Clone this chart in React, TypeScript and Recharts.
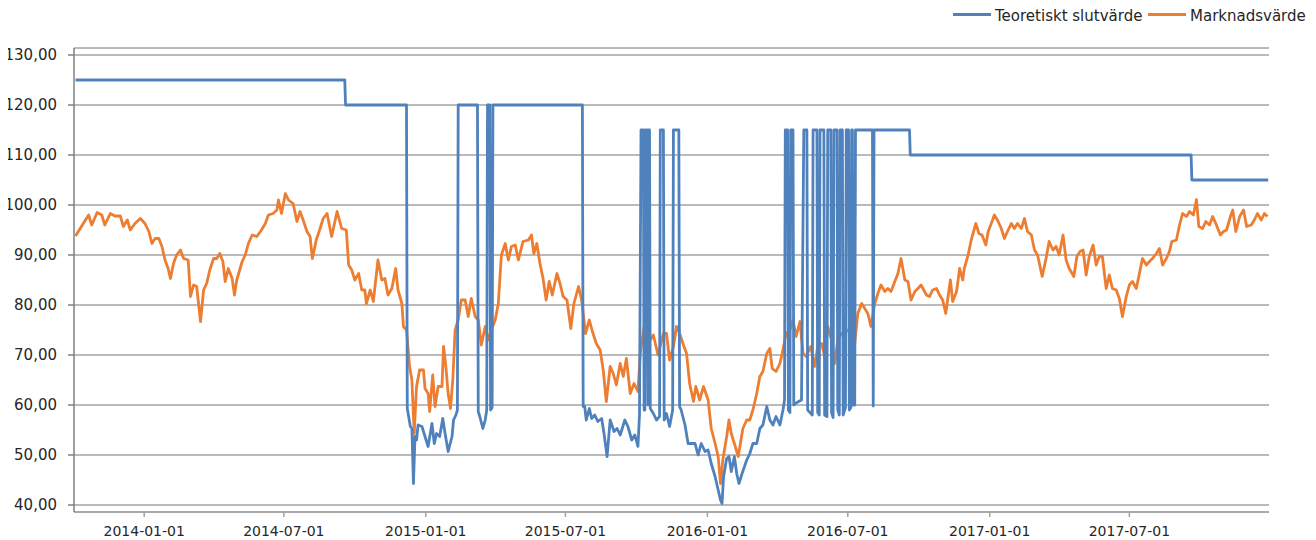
import React from "react";
import { LineChart, Line, XAxis, YAxis, CartesianGrid } from "recharts";

const tickDates = [
  "2014-01-01", "2014-07-01", "2015-01-01", "2015-07-01",
  "2016-01-01", "2016-07-01", "2017-01-01", "2017-07-01",
];
const yTicks = [40, 50, 60, 70, 80, 90, 100, 110, 120, 130];

const marketDates = [
  "2013-10-04", "2013-10-10", "2013-10-14", "2013-10-21", "2013-10-25", "2013-11-01", "2013-11-07", "2013-11-11", "2013-11-18", "2013-11-24",
  "2013-12-01", "2013-12-05", "2013-12-10", "2013-12-14", "2013-12-20", "2013-12-27", "2014-01-02", "2014-01-07", "2014-01-11", "2014-01-15",
  "2014-01-20", "2014-01-24", "2014-01-28", "2014-02-01", "2014-02-04", "2014-02-08", "2014-02-12", "2014-02-17", "2014-02-21", "2014-02-27",
  "2014-03-02", "2014-03-06", "2014-03-10", "2014-03-15", "2014-03-19", "2014-03-23", "2014-03-27", "2014-04-01", "2014-04-05", "2014-04-09",
  "2014-04-13", "2014-04-16", "2014-04-20", "2014-04-25", "2014-04-28", "2014-05-01", "2014-05-08", "2014-05-12", "2014-05-16", "2014-05-21",
  "2014-05-27", "2014-06-02", "2014-06-07", "2014-06-11", "2014-06-17", "2014-06-22", "2014-06-24", "2014-06-28", "2014-07-03", "2014-07-07",
  "2014-07-13", "2014-07-18", "2014-07-22", "2014-07-26", "2014-07-31", "2014-08-04", "2014-08-07", "2014-08-12", "2014-08-17", "2014-08-21",
  "2014-08-26", "2014-09-01", "2014-09-08", "2014-09-14", "2014-09-20", "2014-09-23", "2014-09-27", "2014-10-01", "2014-10-06", "2014-10-10",
  "2014-10-14", "2014-10-16", "2014-10-21", "2014-10-25", "2014-10-31", "2014-11-05", "2014-11-09", "2014-11-13", "2014-11-18", "2014-11-23",
  "2014-11-26", "2014-12-01", "2014-12-03", "2014-12-07", "2014-12-11", "2014-12-14", "2014-12-17", "2014-12-20", "2014-12-24", "2014-12-29",
  "2014-12-31", "2015-01-04", "2015-01-06", "2015-01-10", "2015-01-13", "2015-01-17", "2015-01-22", "2015-01-24", "2015-01-27", "2015-01-30",
  "2015-02-02", "2015-02-05", "2015-02-08", "2015-02-12", "2015-02-16", "2015-02-21", "2015-02-25", "2015-03-01", "2015-03-06", "2015-03-10",
  "2015-03-14", "2015-03-19", "2015-03-23", "2015-03-27", "2015-04-01", "2015-04-05", "2015-04-09", "2015-04-14", "2015-04-18", "2015-04-22",
  "2015-04-27", "2015-05-01", "2015-05-07", "2015-05-14", "2015-05-18", "2015-05-21", "2015-05-25", "2015-05-29", "2015-06-02", "2015-06-06",
  "2015-06-10", "2015-06-14", "2015-06-20", "2015-06-24", "2015-06-28", "2015-07-03", "2015-07-08", "2015-07-12", "2015-07-18", "2015-07-22",
  "2015-07-27", "2015-08-01", "2015-08-05", "2015-08-10", "2015-08-15", "2015-08-19", "2015-08-23", "2015-08-28", "2015-09-01", "2015-09-05",
  "2015-09-10", "2015-09-14", "2015-09-18", "2015-09-23", "2015-09-28", "2015-10-03", "2015-10-06", "2015-10-11", "2015-10-16", "2015-10-23",
  "2015-10-29", "2015-11-05", "2015-11-09", "2015-11-13", "2015-11-18", "2015-11-22", "2015-11-26", "2015-12-01", "2015-12-05", "2015-12-09",
  "2015-12-14", "2015-12-17", "2015-12-22", "2015-12-27", "2016-01-02", "2016-01-06", "2016-01-11", "2016-01-15", "2016-01-18", "2016-01-21",
  "2016-01-26", "2016-01-29", "2016-02-01", "2016-02-05", "2016-02-10", "2016-02-16", "2016-02-21", "2016-02-25", "2016-02-29", "2016-03-05",
  "2016-03-09", "2016-03-13", "2016-03-18", "2016-03-22", "2016-03-25", "2016-03-30", "2016-04-04", "2016-04-07", "2016-04-12", "2016-04-17",
  "2016-04-21", "2016-04-25", "2016-04-30", "2016-05-04", "2016-05-08", "2016-05-14", "2016-05-19", "2016-05-23", "2016-05-28", "2016-06-01",
  "2016-06-05", "2016-06-10", "2016-06-14", "2016-06-18", "2016-06-23", "2016-06-27", "2016-07-01", "2016-07-06", "2016-07-10", "2016-07-14",
  "2016-07-19", "2016-07-23", "2016-07-27", "2016-07-31", "2016-08-05", "2016-08-09", "2016-08-13", "2016-08-18", "2016-08-22", "2016-08-26",
  "2016-08-31", "2016-09-04", "2016-09-08", "2016-09-13", "2016-09-17", "2016-09-21", "2016-09-26", "2016-09-30", "2016-10-04", "2016-10-11",
  "2016-10-15", "2016-10-19", "2016-10-24", "2016-10-28", "2016-11-01", "2016-11-05", "2016-11-08", "2016-11-11", "2016-11-14", "2016-11-19",
  "2016-11-23", "2016-11-27", "2016-11-29", "2016-12-04", "2016-12-08", "2016-12-14", "2016-12-18", "2016-12-22", "2016-12-27", "2016-12-30",
  "2017-01-03", "2017-01-07", "2017-01-11", "2017-01-16", "2017-01-20", "2017-01-24", "2017-01-29", "2017-02-02", "2017-02-06", "2017-02-11",
  "2017-02-15", "2017-02-19", "2017-02-24", "2017-02-28", "2017-03-04", "2017-03-10", "2017-03-15", "2017-03-19", "2017-03-24", "2017-03-28",
  "2017-04-01", "2017-04-06", "2017-04-10", "2017-04-14", "2017-04-20", "2017-04-24", "2017-04-28", "2017-05-02", "2017-05-06", "2017-05-10",
  "2017-05-15", "2017-05-19", "2017-05-23", "2017-05-27", "2017-06-01", "2017-06-05", "2017-06-09", "2017-06-14", "2017-06-18", "2017-06-22",
  "2017-06-27", "2017-07-01", "2017-07-05", "2017-07-10", "2017-07-14", "2017-07-18", "2017-07-23", "2017-07-27", "2017-07-31", "2017-08-05",
  "2017-08-09", "2017-08-13", "2017-08-18", "2017-08-22", "2017-08-25", "2017-08-31", "2017-09-04", "2017-09-08", "2017-09-13", "2017-09-17",
  "2017-09-22", "2017-09-26", "2017-09-29", "2017-10-04", "2017-10-08", "2017-10-13", "2017-10-17", "2017-10-21", "2017-10-27", "2017-10-31",
  "2017-11-04", "2017-11-09", "2017-11-12", "2017-11-16", "2017-11-21", "2017-11-26", "2017-11-30", "2017-12-06", "2017-12-10", "2017-12-14",
  "2017-12-19", "2017-12-23", "2017-12-27",
];

const marketValues = [
  93.8, 95.3, 96.3, 98, 96, 98.5, 98, 96, 98.3, 97.8,
  97.8, 95.7, 97, 95, 96.3, 97.3, 96.3, 94.7, 92.3, 93.3,
  93.3, 91.7, 89, 87.3, 85.3, 88.3, 90, 91, 89.3, 89,
  81.7, 84, 83.7, 76.7, 83, 84.3, 87, 89.3, 89.3, 90.3,
  88.7, 84.7, 87.3, 85.3, 82, 85, 88.7, 90, 92.3, 94,
  93.7, 95, 96.3, 98, 98.3, 99, 101, 98.3, 102.3, 101,
  100.3, 96.7, 98.7, 97, 94.7, 93.7, 89.3, 93, 95.3, 97.3,
  98.3, 93.7, 98.7, 95.3, 95, 88, 87, 85, 86.3, 83,
  83, 80.3, 83, 80.7, 89, 85, 85.3, 82, 83.3, 87.3,
  83, 80.3, 75.7, 75, 67.7, 65, 54.3, 63.7, 67, 67,
  63.3, 62.3, 58.7, 66, 59.7, 63.7, 63.7, 71.7, 67.7, 62.3,
  59.3, 65, 75, 77, 81, 81, 77.7, 81.3, 77.7, 77,
  72, 75.7, 73, 75, 77, 80.3, 90, 92.3, 89, 91.7,
  92, 89, 92.7, 93, 94, 90.3, 92.3, 88.3, 85.3, 81,
  84.7, 82, 86.3, 84.3, 81.7, 81, 75.3, 80.3, 83.7, 81,
  74.3, 77, 74.7, 72.3, 71, 67, 60.7, 67.7, 66.3, 64,
  68.3, 65.7, 69.3, 62.3, 64.3, 62.7, 70.3, 75.7, 72.3, 74,
  70, 74.3, 74.3, 69, 71.7, 75.7, 74.3, 72, 70.3, 64.3,
  60.7, 63.7, 61, 63.7, 61, 55.3, 52.3, 49.7, 44.3, 49,
  53.7, 57, 54.3, 52.3, 49.7, 55.3, 57, 57, 59, 62.3,
  65.7, 66.7, 70.3, 71.3, 67.3, 66.7, 68.3, 70.3, 74.3, 75,
  77, 73.7, 76.7, 70.3, 69.7, 71.7, 67.7, 71.7, 72.3, 69.7,
  75.7, 73, 68.3, 73, 74.3, 74.3, 75, 75, 72.3, 78.3,
  80.3, 79.3, 78.3, 75.7, 80.3, 82.3, 84, 82.7, 83.3, 82.7,
  84.7, 86.3, 89.3, 85, 84.7, 81, 82.7, 83.3, 84, 82,
  81.7, 83, 83.3, 82, 81, 78.3, 81.7, 85, 80.7, 82.7,
  87.3, 85, 87.3, 90, 93, 96.3, 94.3, 94, 92, 94.7,
  96.3, 98, 97, 95.3, 93.3, 94.7, 96.3, 95.3, 96.3, 95.3,
  97.3, 94.7, 94, 91, 90, 85.7, 89.3, 92.7, 91, 91.7,
  90, 94, 89, 87.3, 85.7, 89.7, 90.7, 91, 86, 89.7,
  92, 88, 89.7, 89.7, 83.3, 86, 83.3, 83, 81.3, 77.7,
  81.7, 84, 84.7, 83.3, 86.3, 89.3, 88, 88.7, 89.3, 90.3,
  91.3, 88, 89.3, 90.7, 92.7, 93, 96, 98.3, 97.7, 98.7,
  98, 101.1, 95.7, 95.3, 96.7, 96, 97.7, 96.3, 94, 94.7,
  95, 97.7, 99, 94.7, 97.7, 99, 95.7, 96, 97, 98.3,
  97, 98.3, 97.7,
];

const theoDates = [
  "2013-10-04", "2014-09-18", "2014-09-19", "2014-12-07", "2014-12-08", "2014-12-12", "2014-12-14", "2014-12-16", "2014-12-18", "2014-12-20",
  "2014-12-22", "2014-12-27", "2014-12-31", "2015-01-04", "2015-01-09", "2015-01-12", "2015-01-15", "2015-01-19", "2015-01-23", "2015-01-26",
  "2015-01-30", "2015-02-04", "2015-02-06", "2015-02-09", "2015-02-11", "2015-02-12", "2015-03-09", "2015-03-10", "2015-03-12", "2015-03-16",
  "2015-03-19", "2015-03-21", "2015-03-22", "2015-03-25", "2015-03-26", "2015-03-28", "2015-03-29", "2015-07-23", "2015-07-24", "2015-07-26",
  "2015-07-28", "2015-08-01", "2015-08-04", "2015-08-08", "2015-08-12", "2015-08-17", "2015-08-20", "2015-08-24", "2015-08-28", "2015-09-02",
  "2015-09-06", "2015-09-10", "2015-09-16", "2015-09-20", "2015-09-25", "2015-09-29", "2015-10-03", "2015-10-05", "2015-10-07", "2015-10-10",
  "2015-10-11", "2015-10-12", "2015-10-13", "2015-10-15", "2015-10-16", "2015-10-17", "2015-10-18", "2015-10-19", "2015-10-23", "2015-10-27",
  "2015-10-31", "2015-11-01", "2015-11-05", "2015-11-06", "2015-11-09", "2015-11-13", "2015-11-17", "2015-11-18", "2015-11-25", "2015-11-26",
  "2015-11-28", "2015-12-03", "2015-12-07", "2015-12-11", "2015-12-16", "2015-12-20", "2015-12-24", "2015-12-29", "2016-01-02", "2016-01-06",
  "2016-01-11", "2016-01-15", "2016-01-18", "2016-01-20", "2016-01-22", "2016-01-26", "2016-01-29", "2016-02-01", "2016-02-05", "2016-02-08",
  "2016-02-11", "2016-02-15", "2016-02-21", "2016-02-25", "2016-02-29", "2016-03-05", "2016-03-09", "2016-03-13", "2016-03-18", "2016-03-22",
  "2016-03-26", "2016-03-30", "2016-04-04", "2016-04-08", "2016-04-10", "2016-04-11", "2016-04-14", "2016-04-15", "2016-04-17", "2016-04-18",
  "2016-04-21", "2016-04-22", "2016-04-26", "2016-05-02", "2016-05-05", "2016-05-09", "2016-05-10", "2016-05-13", "2016-05-16", "2016-05-17",
  "2016-05-22", "2016-05-23", "2016-05-25", "2016-05-26", "2016-05-31", "2016-06-01", "2016-06-04", "2016-06-05", "2016-06-09", "2016-06-10",
  "2016-06-12", "2016-06-13", "2016-06-17", "2016-06-18", "2016-06-20", "2016-06-21", "2016-06-24", "2016-06-25", "2016-06-28", "2016-06-29",
  "2016-07-02", "2016-07-03", "2016-07-05", "2016-07-06", "2016-07-07", "2016-07-08", "2016-07-10", "2016-07-11", "2016-08-02", "2016-08-03",
  "2016-08-04", "2016-09-19", "2016-09-20", "2017-09-19", "2017-09-20", "2017-12-28",
];

const theoValues = [
  125, 125, 120, 120, 59.3, 55.7, 55.3, 44.3, 53.7, 53,
  56, 55.7, 53.7, 51.7, 56.3, 52.3, 54.3, 53.7, 57.3, 54.3,
  50.7, 53.7, 57, 58, 59, 120, 120, 58.7, 57.7, 55.3,
  57, 59, 120, 120, 59, 59.5, 120, 120, 59.7, 59.7,
  57, 59.3, 57.3, 58, 56.7, 57.3, 54.3, 49.7, 57, 54.7,
  55.3, 54, 57, 55.7, 53, 54, 51.7, 58, 115, 115,
  59, 59, 115, 115, 60, 115, 115, 59.3, 58.3, 57,
  57.7, 115, 115, 57, 58.3, 55.7, 59, 115, 115, 59.7,
  59, 56, 52.3, 52.3, 52.3, 50, 52.3, 50.7, 51, 48.3,
  45.7, 43, 41, 40.3, 45.7, 49.3, 49.7, 46.7, 49.7, 46.3,
  44.3, 46.3, 49, 50.3, 52.3, 52.3, 55.3, 56, 59.7, 57,
  56, 57.7, 56, 59, 61, 115, 115, 59, 58.5, 115,
  115, 60, 60.5, 61, 115, 115, 59, 58.5, 58, 115,
  115, 58.5, 58, 115, 115, 58, 57.7, 115, 115, 58.5,
  57.5, 115, 115, 59, 58, 115, 115, 58, 59.5, 115,
  115, 59, 59.5, 115, 115, 60, 60, 115, 115, 59.8,
  115, 115, 110, 110, 105, 105,
];

const BLUE = "#4f81bd";
const ORANGE = "#ed7d31";
const FONT = '"DejaVu Sans", sans-serif';
const TEXT = "#262626";

const toTime = (d: string) => Date.parse(d);
const marketData = marketDates.map((d, i) => ({ t: toTime(d), v: marketValues[i] }));
const theoData = theoDates.map((d, i) => ({ t: toTime(d), v: theoValues[i] }));

const fmtDate = (t: number) => new Date(t).toISOString().slice(0, 10);
const fmtNum = (v: number) => v.toFixed(2).replace(".", ",");

function LegendOverlay() {
  const item = (color: string, label: string, left: number) => (
    <div style={{ position: "absolute", left, top: 8, display: "flex", alignItems: "flex-start" }}>
      <div style={{ width: 38, height: 3, background: color, marginTop: 4.5, marginRight: 4 }} />
      <span style={{ fontSize: 15, lineHeight: "15px", color: TEXT, marginTop: 1 }}>{label}</span>
    </div>
  );
  return (
    <>
      {item(BLUE, "Teoretiskt slutvärde", 953)}
      {item(ORANGE, "Marknadsvärde", 1148)}
    </>
  );
}

export default function App() {
  return (
    <div style={{ position: "relative", width: 1316, height: 540, margin: "-8px 0 0 -8px", fontFamily: FONT }}>
      <LineChart width={1316} height={540} margin={{ top: 48, right: 47, bottom: 0, left: 0 }}>
        <CartesianGrid vertical={false} stroke="#a3a3a3" strokeWidth={1.5} />
        <XAxis
          type="number"
          dataKey="t"
          scale="linear"
          domain={[toTime("2013-10-02"), toTime("2017-12-29")]}
          ticks={tickDates.map(toTime)}
          interval={0}
          tickFormatter={fmtDate}
          height={28}
          tickSize={5}
          tickMargin={9}
          allowDataOverflow
          axisLine={{ stroke: "#a3a3a3", strokeWidth: 1.5 }}
          tickLine={{ stroke: "#a3a3a3", strokeWidth: 1.5 }}
          tick={{ fill: TEXT, fontSize: 14, fontFamily: FONT }}
        />
        <YAxis
          type="number"
          domain={[38.6, 131.4]}
          ticks={yTicks}
          interval={0}
          tickFormatter={fmtNum}
          width={74}
          tickSize={6}
          tickMargin={11}
          allowDataOverflow
          axisLine={{ stroke: "#7f7f7f", strokeWidth: 1.5 }}
          tickLine={{ stroke: "#7f7f7f", strokeWidth: 1.5 }}
          tick={{ fill: TEXT, fontSize: 15, fontFamily: FONT }}
        />
        <Line
          data={marketData}
          dataKey="v"
          name="Marknadsvärde"
          type="linear"
          stroke={ORANGE}
          strokeWidth={2.8}
          strokeLinejoin="round"
          dot={false}
          activeDot={false}
          isAnimationActive={false}
        />
        <Line
          data={theoData}
          dataKey="v"
          name="Teoretiskt slutvärde"
          type="linear"
          stroke={BLUE}
          strokeWidth={2.8}
          strokeLinejoin="round"
          dot={false}
          activeDot={false}
          isAnimationActive={false}
        />
      </LineChart>
      <LegendOverlay />
    </div>
  );
}
